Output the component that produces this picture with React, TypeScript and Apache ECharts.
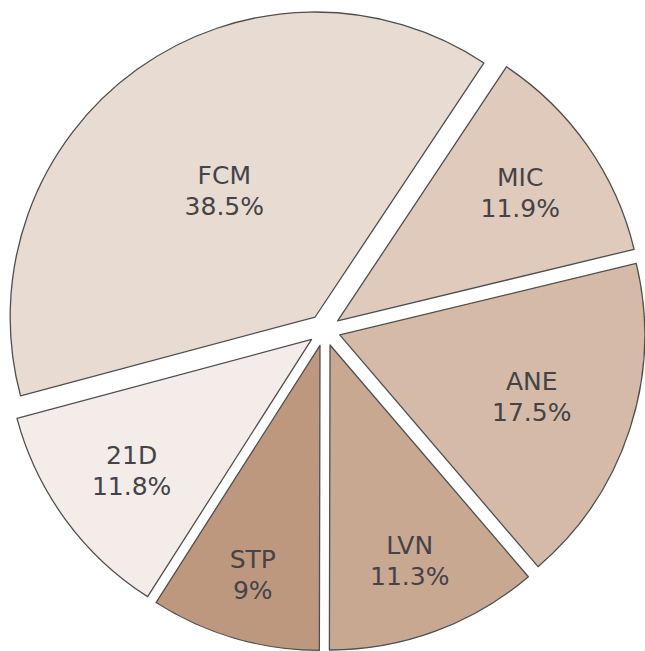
import React, { useEffect, useRef } from 'react';
import * as echarts from 'echarts';

const categories = ['FCM', 'MIC', 'ANE', 'LVN', 'STP', '21D'];
const values = [38.5, 11.9, 17.5, 11.3, 9, 11.8];
const colors = ['#e8dcd2', '#dfcabc', '#d4baa7', '#c9a892', '#bd987e', '#f4ece8'];
// label distance from pie centre, as a fraction of the radius
const labelRadius = [0.563, 0.783, 0.714, 0.808, 0.837, 0.784];

const CENTER = [324.5, 330];
const RADIUS = 305;
const OFFSET = 16;

export default function App() {
  const ref = useRef<HTMLDivElement>(null);
  useEffect(() => {
    document.body.style.margin = '0';
    const chart = echarts.init(ref.current!, undefined, { renderer: 'svg' });
    const border = { borderColor: '#4f4f4f', borderWidth: 1.3 };
    const data = categories.map((name, i) => ({
      name,
      value: values[i],
      selected: true,
      itemStyle: { color: colors[i], ...border },
      select: { itemStyle: { color: colors[i], ...border } },
    }));
    chart.setOption({
      animation: false,
      backgroundColor: '#ffffff',
      series: [
        {
          type: 'pie',
          center: CENTER,
          radius: RADIUS,
          startAngle: 195,
          clockwise: true,
          selectedMode: 'multiple',
          selectedOffset: OFFSET,
          silent: true,
          itemStyle: border,
          emphasis: { disabled: true },
          label: {
            show: true,
            position: 'inside',
            formatter: (p: any) => `${p.name}\n${p.value}%`,
            fontFamily: 'DejaVu Sans',
            fontSize: 25,
            lineHeight: 31,
            color: '#434348',
            align: 'center',
          },
          labelLine: { show: false },
          labelLayout: (p: any) => {
            const r = p.labelRect;
            const lx = r.x + r.width / 2;
            const ly = r.y + r.height / 2;
            const vx = lx - CENTER[0];
            const vy = ly - CENTER[1];
            const len = Math.hypot(vx, vy) || 1;
            const t = labelRadius[p.dataIndex] * RADIUS - OFFSET;
            return { dx: (vx / len) * t - vx, dy: (vy / len) * t - vy };
          },
          data,
        },
      ],
    });
    return () => chart.dispose();
  }, []);
  return <div ref={ref} style={{ width: 645, height: 651 }} />;
}
